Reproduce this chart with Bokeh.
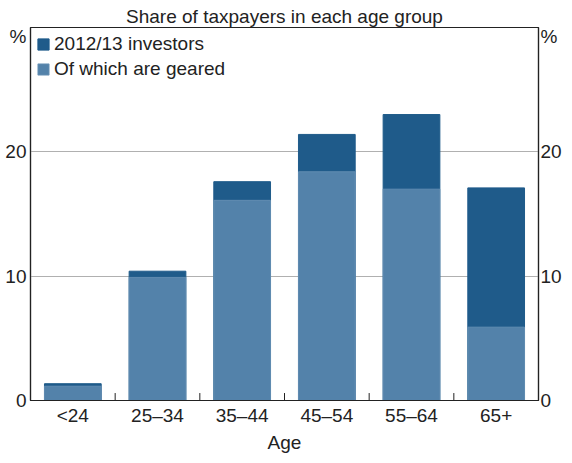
from bokeh.plotting import figure
from bokeh.models import Range1d, LinearAxis, FixedTicker, Legend, LegendItem, CustomJSTickFormatter
from bokeh.embed import file_html
from bokeh.resources import INLINE

ages = ["<24", "25–34", "35–44", "45–54", "55–64", "65+"]
investors = [1.35, 10.4, 17.6, 21.4, 23.0, 17.1]
geared = [1.15, 9.9, 16.1, 18.4, 17.0, 5.9]
y_ticks = [0, 10, 20]
unit_tick = 29.3  # where the "%" unit label sits

DARK = "#1f5b8a"
LIGHT = "#5382aa"
FONT = "Liberation Sans"
TXT = "#222222"
FS = "19px"

p = figure(x_range=ages, y_range=Range1d(0, 30), width=564, height=455,
           output_backend="svg", toolbar_location=None,
           min_border_left=30, min_border_right=18, min_border_top=27, min_border_bottom=49)
p.title.text = "Share of taxpayers in each age group"
p.title.align = "center"
p.title.text_font = FONT
p.title.text_font_size = FS
p.title.text_font_style = "normal"
p.title.text_color = TXT
p.title.standoff = 2

r1 = p.vbar(x=ages, top=investors, width=0.67, fill_color=DARK, line_color=DARK)
r2 = p.vbar(x=ages, top=geared, width=0.67, fill_color=LIGHT, line_color="#6b93b6", line_width=0.8)

p.outline_line_color = TXT
p.outline_line_width = 1.2
p.background_fill_color = "white"
p.border_fill_color = "white"

p.xgrid.grid_line_color = None
p.ygrid.ticker = FixedTicker(ticks=y_ticks)
p.ygrid.grid_line_color = "#b0b0b0"
p.ygrid.grid_line_width = 1

fmt_code = "return tick > 25 ? '%' : tick.toFixed(0);"

def style_y(ax, standoff):
    ax.ticker = FixedTicker(ticks=y_ticks + [unit_tick])
    ax.formatter = CustomJSTickFormatter(code=fmt_code)
    ax.major_tick_line_color = None
    ax.minor_tick_line_color = None
    ax.major_tick_out = 0
    ax.major_tick_in = 0
    ax.axis_line_color = TXT
    ax.axis_line_width = 1.2
    ax.major_label_text_font = FONT
    ax.major_label_text_font_size = FS
    ax.major_label_text_color = TXT
    ax.major_label_standoff = standoff

style_y(p.yaxis[0], 4)
rax = LinearAxis()
style_y(rax, 2)
p.add_layout(rax, "right")

xax = p.xaxis[0]
xax.axis_label = "Age"
xax.axis_label_text_font = FONT
xax.axis_label_text_font_size = FS
xax.axis_label_text_font_style = "normal"
xax.axis_label_text_color = TXT
xax.axis_label_standoff = 3
xax.major_label_text_font = FONT
xax.major_label_text_font_size = FS
xax.major_label_text_color = TXT
xax.major_label_standoff = 4
xax.major_tick_line_color = None
xax.major_tick_out = 0
xax.major_tick_in = 0
xax.axis_line_color = TXT
xax.axis_line_width = 1.2

# inward ticks at category boundaries
bounds = list(range(1, len(ages)))
p.segment(x0=bounds, x1=bounds, y0=[0] * len(bounds), y1=[0.6] * len(bounds),
          line_color=TXT, line_width=1)

legend = Legend(items=[LegendItem(label="2012/13 investors", renderers=[r1]),
                       LegendItem(label="Of which are geared", renderers=[r2])],
                location="top_left")
legend.border_line_color = None
legend.background_fill_alpha = 0
legend.label_text_font = FONT
legend.label_text_font_size = FS
legend.label_text_color = TXT
legend.glyph_width = 14
legend.glyph_height = 14
legend.label_height = 20
legend.spacing = 3
legend.label_standoff = 4
legend.margin = 6
legend.padding = 8
p.add_layout(legend)

open("out.html", "w").write(file_html(p, INLINE))
